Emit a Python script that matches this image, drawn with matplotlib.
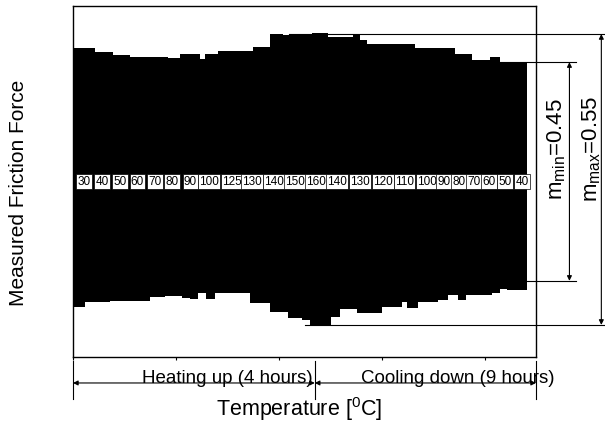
import numpy as np
import matplotlib
matplotlib.use("Agg")
import matplotlib.pyplot as plt

plt.rcParams["font.family"] = ["Liberation Sans", "DejaVu Sans"]
plt.rcParams["mathtext.fontset"] = "custom"
plt.rcParams["mathtext.rm"] = "Liberation Sans"
plt.rcParams["mathtext.it"] = "Liberation Sans"

# friction signal envelope (step edges along the run, force in normalised units)
upper_edges = [0, 2.14, 3.88, 5.53, 9.22, 10.39, 12.33, 12.82, 14.08, 15.73, 17.48,
               19.13, 20.39, 23.20, 24.76, 27.18, 27.86, 28.54, 31.07, 33.20, 37.09,
               38.74, 40.49, 41.46, 44.17]
upper_force = [0.758, 0.739, 0.720, 0.708, 0.701, 0.724, 0.697, 0.729, 0.741, 0.745,
               0.764, 0.842, 0.834, 0.849, 0.823, 0.835, 0.805, 0.786, 0.781, 0.758,
               0.725, 0.695, 0.707, 0.682]

lower_edges = [0, 1.17, 3.59, 7.48, 8.93, 10.58, 11.36, 12.14, 12.91, 13.79, 17.18,
               19.13, 20.87, 22.23, 23.01, 25.05, 25.92, 27.57, 30.00, 31.94, 32.43,
               33.50, 35.44, 36.41, 37.38, 38.16, 40.68, 41.46, 42.23, 44.17]
lower_force = [-0.714, -0.685, -0.680, -0.657, -0.651, -0.663, -0.671, -0.634, -0.667,
               -0.634, -0.691, -0.742, -0.777, -0.790, -0.819, -0.771, -0.728, -0.752,
               -0.714, -0.685, -0.718, -0.689, -0.676, -0.644, -0.676, -0.644, -0.634,
               -0.614, -0.619]

# temperature steps and where each one sits along the run
temps = ["30", "40", "50", "60", "70", "80", "90", "100", "125", "130", "140", "150",
         "160", "140", "130", "120", "110", "100", "90", "80", "70", "60", "50", "40"]
step_pos = [1.07, 2.82, 4.56, 6.26, 7.96, 9.61, 11.41, 13.25, 15.44, 17.43, 19.51,
            21.55, 23.59, 25.68, 27.91, 30.10, 32.23, 34.37, 36.07, 37.52, 38.98,
            40.44, 41.99, 43.64]

mu_labels = [("min", 0.45), ("max", 0.55)]
mu_min_band = [-0.566, 0.680]
mu_max_band = [-0.817, 0.840]

heat_end = 23.5

fig = plt.figure(figsize=(6.05, 4.31), dpi=100)
ax = fig.add_axes([73 / 605, 1 - 358 / 431, 463 / 605, 351 / 431])
ax.set_xlim(0, 45)
ax.set_ylim(-1, 1)

# envelope of the oscillating force signal
ux = np.array(upper_edges)
uy = np.append(upper_force, upper_force[-1])
ax.fill_between(ux, 0, uy, step="post", color="black", lw=0)
lx = np.array(lower_edges)
ly = np.append(lower_force, lower_force[-1])
ax.fill_between(lx, ly, 0, step="post", color="black", lw=0)

for xp, t in zip(step_pos, temps):
    ax.text(xp, 0.0, t, ha="center", va="center", fontsize=8.5,
            bbox=dict(boxstyle="square,pad=0.1", fc="white", ec="black", lw=0.5))

ax.set_xticks([0, 10, 20, 30, 40])
ax.set_xticklabels([])
ax.set_yticks([])
ax.tick_params(axis="x", direction="out", length=2, width=0.8)
for s in ax.spines.values():
    s.set_linewidth(1.0)

line_kw = dict(color="black", lw=0.8, clip_on=False)
arr_kw = dict(arrowstyle="<|-|>", lw=0.8, color="black", mutation_scale=7,
              shrinkA=0, shrinkB=0)

# mu_min and mu_max dimension lines on the right
ax.plot([40.9, 48.9], [mu_min_band[1]] * 2, **line_kw)
ax.plot([43.0, 48.9], [mu_min_band[0]] * 2, **line_kw)
ax.plot([21.0, 51.7], [mu_max_band[1]] * 2, **line_kw)
ax.plot([22.5, 51.7], [mu_max_band[0]] * 2, **line_kw)
ax.annotate("", xy=(48.25, mu_min_band[1]), xytext=(48.25, mu_min_band[0]),
            arrowprops=arr_kw, annotation_clip=False)
ax.annotate("", xy=(51.35, mu_max_band[1]), xytext=(51.35, mu_max_band[0]),
            arrowprops=arr_kw, annotation_clip=False)
for xpos, (sub, val) in zip([47.05, 50.45], mu_labels):
    ax.text(xpos, 0.19, "m$_{%s}$=%.2f" % (sub, val), rotation=90, ha="center",
            va="center", fontsize=16)

# heating / cooling dimension lines below the axis
for xe in [0, heat_end, 45]:
    ax.plot([xe, xe], [-1.02, -1.24], **line_kw)
ax.annotate("", xy=(0, -1.148), xytext=(heat_end, -1.148), arrowprops=arr_kw,
            annotation_clip=False)
ax.annotate("", xy=(heat_end, -1.148), xytext=(45, -1.148), arrowprops=arr_kw,
            annotation_clip=False)
ax.text(15.0, -1.140, "Heating up (4 hours)", ha="center", va="baseline", fontsize=13.5)
ax.text(37.4, -1.140, "Cooling down (9 hours)", ha="center", va="baseline", fontsize=13.5)

ax.text(22.0, -1.293, "Temperature [$^0$C]", ha="center", va="center", fontsize=15.5)
fig.text(19 / 605, 1 - 193 / 431, "Measured Friction Force", rotation=90,
         ha="center", va="center", fontsize=15)

fig.savefig("out.png", dpi=100)
